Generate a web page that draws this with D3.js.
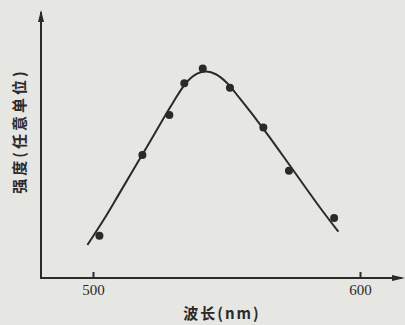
<!DOCTYPE html>
<meta charset="utf-8">
<style>
  body { margin: 0; background: #e6e6e2; }
  svg { display: block; }
  .lbl { font-family: "Noto Sans CJK SC", sans-serif; fill: #2a2a2a; font-weight: bold; }
  .tick text { font-family: "Liberation Serif", "DejaVu Serif", serif; font-size: 15px; fill: #2a2a2a; }
</style>
<body>
<script src="https://d3js.org/d3.v7.min.js"></script>
<script>
// measured points (wavelength nm, intensity arbitrary)
var pointWl = [502.4, 518.5, 528.6, 534.2, 541.1, 551.3, 563.8, 573.4, 590.3];
var pointI  = [15.9, 46.2, 61.3, 73.2, 78.8, 71.5, 56.6, 40.3, 22.6];

// fitted curve drawn through the points
var curveWl = [497.9, 505, 510, 520, 530, 535, 539, 542.5, 546, 550, 555, 565, 575, 585, 591.9];
var curveI  = [12.4, 23.5, 32, 49, 66, 73.5, 76.8, 77.6, 76.6, 73.5, 67.5, 54.5, 40.5, 26.5, 17.4];

var xTicks = [500, 600];

var width = 405, height = 325;

var svg = d3.select("body").append("svg")
    .attr("width", width)
    .attr("height", height);

var x = d3.scaleLinear().domain([500, 600]).range([93, 360]);
var y = d3.scaleLinear().domain([0, 100]).range([278, 12]);

var ink = "#2a2a2a";

// axes lines
svg.append("line")
    .attr("x1", 41).attr("x2", 41)
    .attr("y1", y(100)).attr("y2", y(0))
    .style("stroke", ink).style("stroke-width", 2);
svg.append("line")
    .attr("x1", 40).attr("x2", 402)
    .attr("y1", y(0)).attr("y2", y(0))
    .style("stroke", ink).style("stroke-width", 2);

// small arrow heads
svg.append("path")
    .attr("d", "M38,22 L41,10 L44,22 Z")
    .style("fill", ink);
svg.append("path")
    .attr("d", "M392,275 L405,278 L392,281 Z")
    .style("fill", ink);

var xAxis = svg.append("g")
    .attr("transform", "translate(0," + y(0) + ")")
    .call(d3.axisBottom(x).tickValues(xTicks).tickSize(-6).tickPadding(6));
xAxis.select(".domain").remove();
xAxis.selectAll(".tick line").style("stroke", ink).style("stroke-width", 2);

// curve
var line = d3.line()
    .x(function (d, i) { return x(curveWl[i]); })
    .y(function (d, i) { return y(curveI[i]); })
    .curve(d3.curveCatmullRom);

svg.append("path")
    .datum(curveI)
    .attr("d", line)
    .style("fill", "none")
    .style("stroke", ink)
    .style("stroke-width", 2);

svg.selectAll("circle")
    .data(pointI)
    .enter()
    .append("circle")
    .attr("cx", function (d, i) { return x(pointWl[i]); })
    .attr("cy", function (d) { return y(d); })
    .attr("r", 4)
    .style("fill", ink);

// labels
svg.append("text")
    .attr("class", "lbl")
    .attr("transform", "translate(25,131) rotate(-90)")
    .attr("text-anchor", "middle")
    .style("font-size", "15px")
    .style("letter-spacing", "3px")
    .text("强度(任意单位)");

svg.append("text")
    .attr("class", "lbl")
    .attr("x", 222)
    .attr("y", 319)
    .attr("text-anchor", "middle")
    .style("font-size", "15px")
    .style("letter-spacing", "2px")
    .text("波长(nm)");
</script>
</body>
</html>
